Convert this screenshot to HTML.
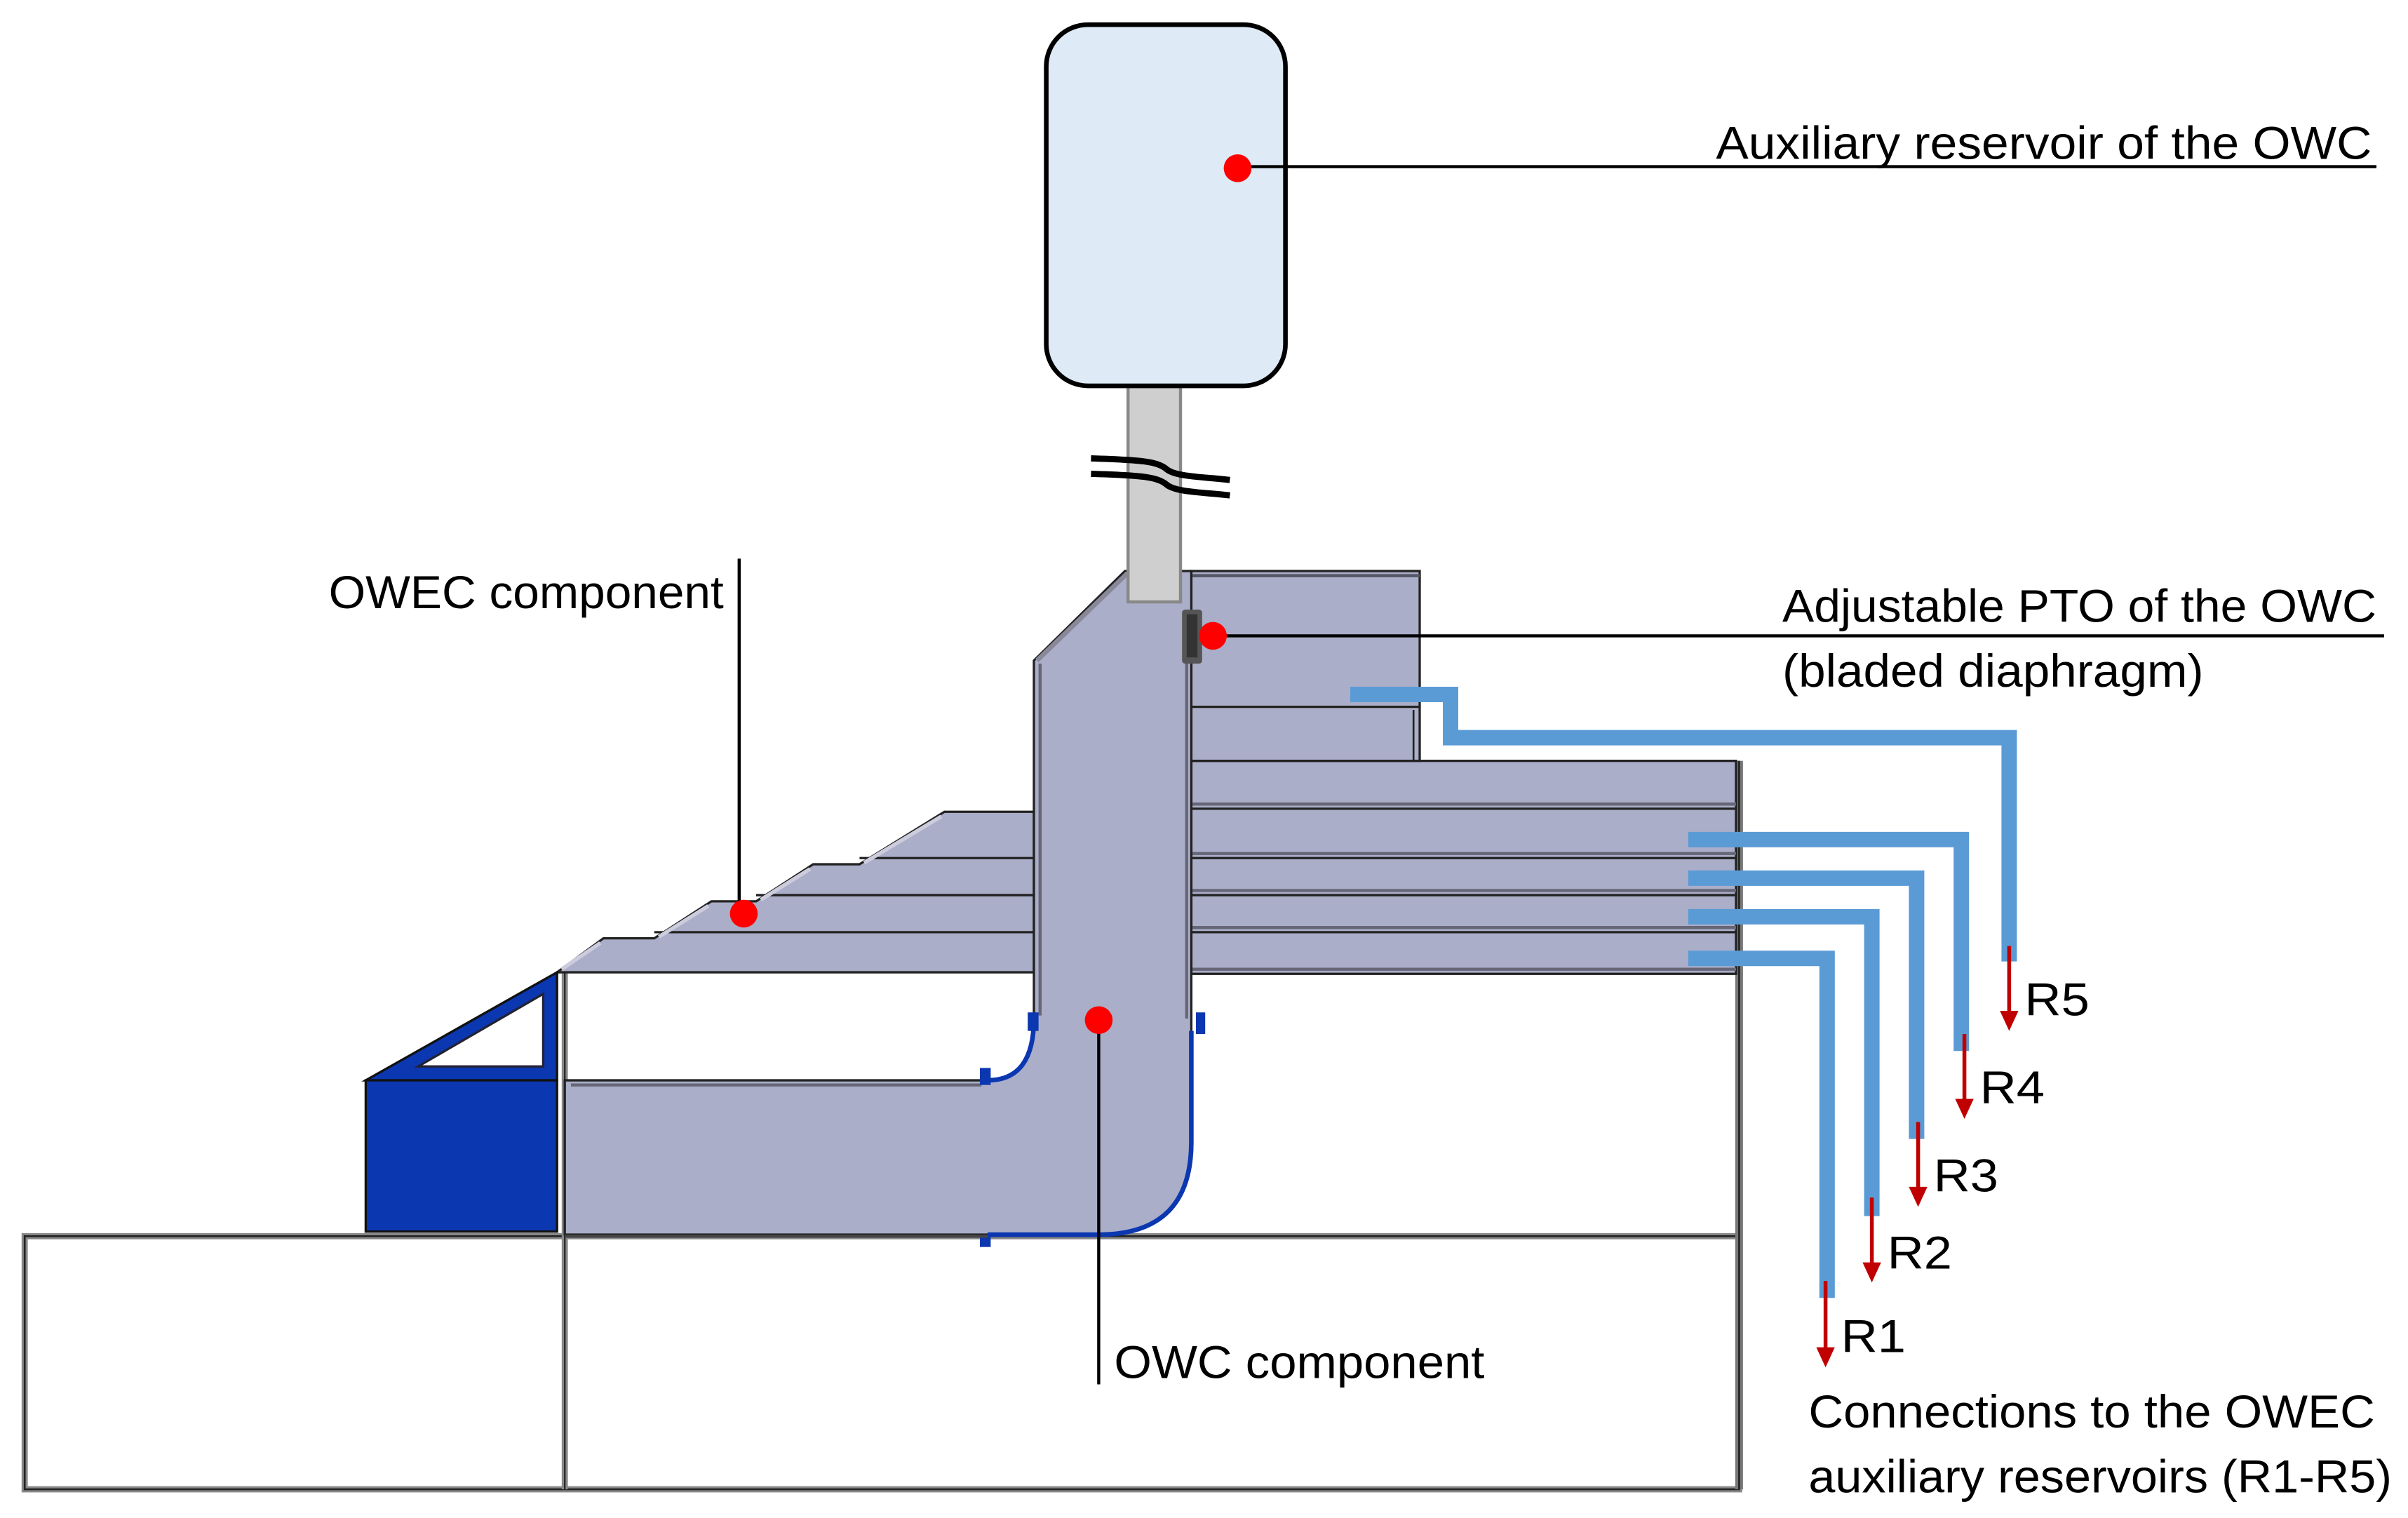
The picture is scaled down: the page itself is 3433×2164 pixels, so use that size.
<!DOCTYPE html>
<html><head><meta charset="utf-8"><style>html,body{margin:0;padding:0;background:#fff}svg{display:block}</style></head>
<body>
<svg width="3433" height="2164" viewBox="0 0 1560.45 983.6" preserveAspectRatio="none" xmlns="http://www.w3.org/2000/svg" font-family="Liberation Sans, sans-serif">
<rect width="1560.45" height="983.6" fill="#fff"/>
<!-- bottom frame -->
<rect x="16" y="801" width="1111" height="164" fill="#fff" stroke="#888" stroke-width="4"/>
<rect x="16" y="801" width="1111" height="164" fill="none" stroke="#222" stroke-width="1.2"/>
<line x1="366" y1="630" x2="366" y2="965" stroke="#888" stroke-width="4"/>
<line x1="366" y1="630" x2="366" y2="965" stroke="#222" stroke-width="1"/>
<line x1="1127" y1="493" x2="1127" y2="965" stroke="#777" stroke-width="5"/>
<line x1="1127" y1="493" x2="1127" y2="965" stroke="#222" stroke-width="1.2"/>
<!-- right slat box -->
<rect x="772" y="493" width="353" height="138" fill="#aaaec8" stroke="#222" stroke-width="1.5"/>
<g stroke="#222" stroke-width="1.5">
<line x1="772" y1="524" x2="1125" y2="524"/><line x1="772" y1="556" x2="1125" y2="556"/>
<line x1="772" y1="580" x2="1125" y2="580"/><line x1="772" y1="604" x2="1125" y2="604"/>
</g>
<g stroke="#667" stroke-width="2">
<line x1="772" y1="521" x2="1125" y2="521"/><line x1="772" y1="553" x2="1125" y2="553"/>
<line x1="772" y1="577" x2="1125" y2="577"/><line x1="772" y1="601" x2="1125" y2="601"/><line x1="772" y1="628" x2="1125" y2="628"/>
</g>
<!-- left stairs -->
<polygon points="670,526 612,526 557,560 527,560 490,584 461,584 424,608 391,608 361,630 670,630" fill="#aaaec8" stroke="#222" stroke-width="1.5"/>
<g stroke="#222" stroke-width="1.5">
<line x1="557" y1="556" x2="670" y2="556"/><line x1="490" y1="580" x2="670" y2="580"/><line x1="424" y1="604" x2="670" y2="604"/>
</g>
<g stroke="#ccd" stroke-width="2.5">
<line x1="610" y1="529" x2="560" y2="559"/><line x1="525" y1="563" x2="493" y2="583"/><line x1="459" y1="587" x2="427" y2="607"/><line x1="389" y1="611" x2="364" y2="628"/>
</g>
<!-- upper PTO box -->
<rect x="772" y="370" width="148" height="123" fill="#aaaec8" stroke="#222" stroke-width="1.5"/>
<line x1="772" y1="458" x2="920" y2="458" stroke="#222" stroke-width="1.5"/>
<line x1="772" y1="373" x2="920" y2="373" stroke="#556" stroke-width="2"/>
<line x1="916" y1="460" x2="916" y2="493" stroke="#222" stroke-width="1.2"/>
<!-- blue triangle + square -->
<polygon points="237,700 361,630 361,700" fill="#0b37b0" stroke="#111" stroke-width="1.5"/>
<polygon points="271,691 352,644 352,691" fill="#fff" stroke="#223" stroke-width="1.5"/>
<rect x="237" y="700" width="124" height="98" fill="#0b37b0" stroke="#111" stroke-width="1.5"/>
<!-- OWC chamber -->
<path d="M670,428 L729,370 L772,370 L772,740 Q772,800 712,800 L366,800 L366,700 L640,700 Q670,700 670,660 Z" fill="#aaaec8" stroke="#222" stroke-width="1.5"/>
<line x1="674" y1="430" x2="674" y2="658" stroke="#667" stroke-width="2"/>
<line x1="769" y1="395" x2="769" y2="660" stroke="#667" stroke-width="2"/>
<line x1="672" y1="428" x2="730" y2="372" stroke="#889" stroke-width="3"/>
<line x1="370" y1="703" x2="636" y2="703" stroke="#667" stroke-width="2"/>
<path d="M670,660 Q670,700 640,700" fill="none" stroke="#0b37b0" stroke-width="3"/>
<path d="M772,668 L772,740 Q772,800 712,800 L640,800" fill="none" stroke="#0b37b0" stroke-width="3"/>
<rect x="666" y="656" width="7" height="12" fill="#0b37b0"/>
<rect x="775" y="656" width="6" height="14" fill="#0b37b0"/>
<rect x="635" y="692" width="7" height="11" fill="#0b37b0"/>
<rect x="635" y="800" width="7" height="8" fill="#0b37b0"/>
<line x1="366" y1="801" x2="640" y2="801" stroke="#444" stroke-width="2"/>
<!-- pipe -->
<rect x="731" y="250" width="34" height="140" fill="#cfcfcf" stroke="#888" stroke-width="2"/>
<path d="M707,297 C740,298 750,299 756,304 C762,309 780,309 797,311" fill="none" stroke="#000" stroke-width="4"/>
<path d="M707,307 C740,308 750,309 756,314 C762,319 780,319 797,321" fill="none" stroke="#000" stroke-width="4"/>
<!-- PTO element -->
<rect x="766" y="395" width="13" height="35" rx="2" fill="#555"/>
<rect x="769" y="398" width="7" height="28" fill="#333"/>
<!-- reservoir -->
<rect x="678" y="16" width="155" height="234" rx="27" fill="#deeaf6" stroke="#000" stroke-width="3"/>
<!-- blue connection pipes -->
<g fill="none" stroke="#5b9bd5" stroke-width="10" stroke-linejoin="miter">
<path d="M875,450 L940,450 L940,478 L1302,478 L1302,623"/>
<path d="M1094,544 L1271,544 L1271,681"/>
<path d="M1094,569 L1242,569 L1242,738"/>
<path d="M1094,594 L1213,594 L1213,788"/>
<path d="M1094,621 L1184,621 L1184,841"/>
</g>
<!-- red arrows -->
<g stroke="#c00000" stroke-width="2.5" fill="#c00000">
<line x1="1302" y1="613" x2="1302" y2="656"/><polygon points="1296,655 1308,655 1302,668" stroke="none"/>
<line x1="1273" y1="670" x2="1273" y2="713"/><polygon points="1267,712 1279,712 1273,725" stroke="none"/>
<line x1="1243" y1="727" x2="1243" y2="770"/><polygon points="1237,769 1249,769 1243,782" stroke="none"/>
<line x1="1213" y1="776" x2="1213" y2="819"/><polygon points="1207,818 1219,818 1213,831" stroke="none"/>
<line x1="1183" y1="830" x2="1183" y2="874"/><polygon points="1177,873 1189,873 1183,886" stroke="none"/>
</g>
<!-- leader lines -->
<g stroke="#000" stroke-width="2">
<line x1="802" y1="108" x2="1540" y2="108"/>
<line x1="786" y1="412" x2="1545" y2="412"/>
<line x1="479" y1="362" x2="479" y2="592"/>
<line x1="712" y1="661" x2="712" y2="897"/>
</g>
<g fill="#f00">
<circle cx="802" cy="109" r="9"/><circle cx="786" cy="412" r="9"/>
<circle cx="482" cy="592" r="9"/><circle cx="712" cy="661" r="9"/>
</g>
<!-- text -->
<g font-size="30" fill="#000">
<text x="1112" y="103" textLength="425" lengthAdjust="spacingAndGlyphs">Auxiliary reservoir of the OWC</text>
<text x="1155" y="403" textLength="385" lengthAdjust="spacingAndGlyphs">Adjustable PTO of the OWC</text>
<text x="1155" y="445" textLength="273" lengthAdjust="spacingAndGlyphs">(bladed diaphragm)</text>
<text x="213" y="394" textLength="256" lengthAdjust="spacingAndGlyphs">OWEC component</text>
<text x="722" y="893" textLength="240" lengthAdjust="spacingAndGlyphs">OWC component</text>
<text x="1172" y="925" textLength="367" lengthAdjust="spacingAndGlyphs">Connections to the OWEC</text>
<text x="1172" y="967" textLength="378" lengthAdjust="spacingAndGlyphs">auxiliary reservoirs (R1-R5)</text>
<text x="1312" y="658" textLength="42" lengthAdjust="spacingAndGlyphs">R5</text>
<text x="1283" y="715" textLength="42" lengthAdjust="spacingAndGlyphs">R4</text>
<text x="1253" y="772" textLength="42" lengthAdjust="spacingAndGlyphs">R3</text>
<text x="1223" y="822" textLength="42" lengthAdjust="spacingAndGlyphs">R2</text>
<text x="1193" y="876" textLength="42" lengthAdjust="spacingAndGlyphs">R1</text>
</g>
</svg>
</body></html>
